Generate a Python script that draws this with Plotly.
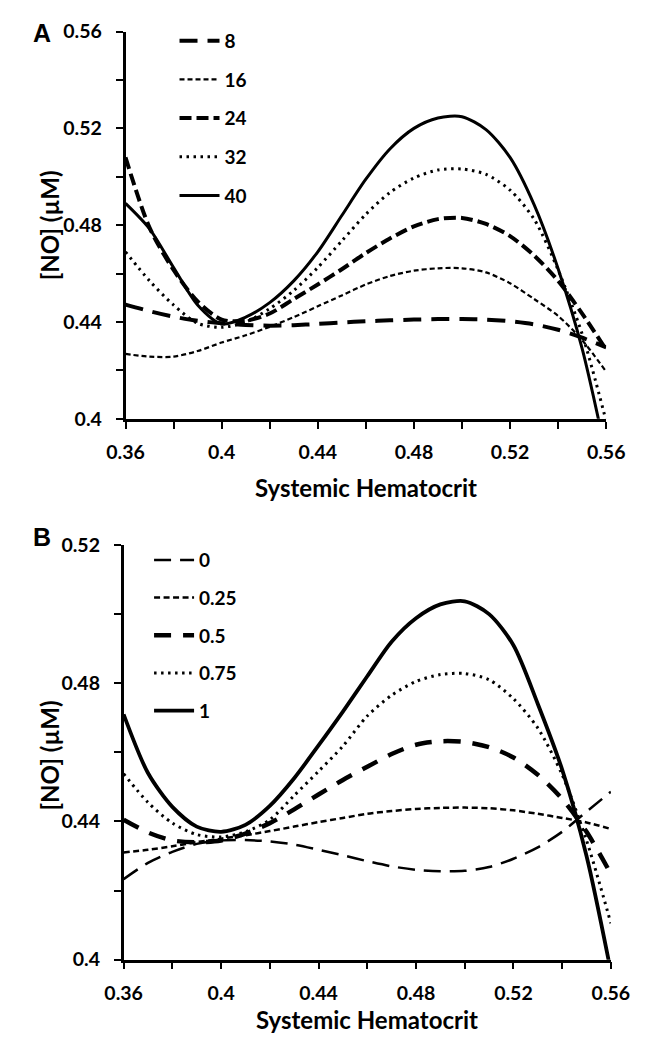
import plotly.graph_objects as go

# ---------------- data ----------------
hct = [0.36, 0.37, 0.38, 0.39, 0.40, 0.41, 0.42, 0.43, 0.44, 0.45, 0.46,
       0.47, 0.48, 0.49, 0.50, 0.51, 0.52, 0.53, 0.54, 0.55, 0.56]

# Panel A series
a_names = ["8", "16", "24", "32", "40"]
a_8 = [0.4472, 0.4445, 0.4422, 0.4405, 0.4395, 0.4388, 0.4385, 0.4387, 0.4392, 0.4398, 0.4403,
       0.4407, 0.4410, 0.4412, 0.4412, 0.4410, 0.4403, 0.4390, 0.4368, 0.4335, 0.4295]
a_16 = [0.4268, 0.4257, 0.4257, 0.4280, 0.4315, 0.4345, 0.4380, 0.4420, 0.4465, 0.4510, 0.4555,
        0.4590, 0.4612, 0.4622, 0.4622, 0.4605, 0.4560, 0.4495, 0.4425, 0.4325, 0.4195]
a_24 = [0.5080, 0.4790, 0.4615, 0.4485, 0.4410, 0.4405, 0.4435, 0.4495, 0.4555, 0.4618, 0.4685,
        0.4745, 0.4795, 0.4825, 0.4830, 0.4805, 0.4755, 0.4675, 0.4570, 0.4435, 0.4285]
a_32 = [0.4690, 0.4570, 0.4470, 0.4395, 0.4378, 0.4400, 0.4455, 0.4530, 0.4625, 0.4735, 0.4845,
        0.4935, 0.4995, 0.5028, 0.5032, 0.5010, 0.4945, 0.4825, 0.4615, 0.4350, 0.3990]
a_40 = [0.4890, 0.4785, 0.4625, 0.4470, 0.4392, 0.4420, 0.4480, 0.4570, 0.4690, 0.4840, 0.4990,
        0.5115, 0.5200, 0.5243, 0.5248, 0.5195, 0.5080, 0.4885, 0.4620, 0.4290, 0.3850]

# Panel B series
b_names = ["0", "0.25", "0.5", "0.75", "1"]
b_0 = [0.4233, 0.4280, 0.4312, 0.4335, 0.4345, 0.4346, 0.4342, 0.4333, 0.4318, 0.4302, 0.4285,
       0.4270, 0.4260, 0.4256, 0.4257, 0.4268, 0.4292, 0.4325, 0.4370, 0.4428, 0.4486]
b_025 = [0.4310, 0.4318, 0.4328, 0.4340, 0.4350, 0.4360, 0.4372, 0.4385, 0.4398, 0.4410, 0.4422,
         0.4430, 0.4436, 0.4439, 0.4440, 0.4438, 0.4432, 0.4422, 0.4410, 0.4397, 0.4378]
b_05 = [0.4405, 0.4368, 0.4345, 0.4340, 0.4345, 0.4365, 0.4395, 0.4435, 0.4478, 0.4520, 0.4558,
        0.4595, 0.4622, 0.4632, 0.4630, 0.4615, 0.4585, 0.4535, 0.4465, 0.4370, 0.4248]
b_075 = [0.4538, 0.4455, 0.4395, 0.4362, 0.4355, 0.4370, 0.4405, 0.4475, 0.4545, 0.4618, 0.4705,
         0.4765, 0.4805, 0.4825, 0.4828, 0.4810, 0.4755, 0.4670, 0.4535, 0.4345, 0.4105]
b_1 = [0.4710, 0.4540, 0.4442, 0.4385, 0.4370, 0.4390, 0.4445, 0.4525, 0.4620, 0.4718, 0.4820,
       0.4920, 0.4988, 0.5028, 0.5037, 0.5000, 0.4910, 0.4740, 0.4550, 0.4300, 0.3965]

x_tickvals = [0.36, 0.40, 0.44, 0.48, 0.52, 0.56]
x_ticktext = ["0.36", "0.4", "0.44", "0.48", "0.52", "0.56"]
x_minorvals = [0.38, 0.42, 0.46, 0.50, 0.54]
ya_tickvals = [0.40, 0.44, 0.48, 0.52, 0.56]
ya_ticktext = ["0.4", "0.44", "0.48", "0.52", "0.56"]
ya_minorvals = [0.42, 0.46, 0.50, 0.54]
yb_tickvals = [0.40, 0.44, 0.48, 0.52]
yb_ticktext = ["0.4", "0.44", "0.48", "0.52"]
yb_minorvals = [0.42, 0.46, 0.50]

x_title = "Systemic Hematocrit"
y_title = "[NO] (\u00b5M)"

# ---------------- styles ----------------
a_styles = [
    dict(width=4, dash="18px,10px"),
    dict(width=2.2, dash="5px,3px"),
    dict(width=4, dash="12px,5px"),
    dict(width=3, dash="2.5px,4.5px"),
    dict(width=3, dash="solid"),
]
b_styles = [
    dict(width=2.5, dash="17px,9px"),
    dict(width=2.5, dash="6px,3.5px"),
    dict(width=4.5, dash="17px,12px"),
    dict(width=3, dash="2.5px,4.5px"),
    dict(width=3.8, dash="solid"),
]

FONT = "Lato"
fig = go.Figure()

for name, ys, st in zip(a_names, [a_8, a_16, a_24, a_32, a_40], a_styles):
    fig.add_trace(go.Scatter(
        x=hct, y=ys, mode="lines", name=name, legend="legend",
        legendgroup="a" + name,
        line=dict(color="black", width=st["width"], dash=st["dash"], shape="spline", smoothing=0.8),
        xaxis="x", yaxis="y"))

for name, ys, st in zip(b_names, [b_0, b_025, b_05, b_075, b_1], b_styles):
    fig.add_trace(go.Scatter(
        x=hct, y=ys, mode="lines", name=name, legend="legend2",
        legendgroup="b" + name,
        line=dict(color="black", width=st["width"], dash=st["dash"], shape="spline", smoothing=0.8),
        xaxis="x2", yaxis="y2"))

W, H = 661, 1043
def px(v): return v / W
def py(v): return 1 - v / H

tickfont = dict(family=FONT, size=19.5, color="black", weight="bold")

def xaxis(dom, anchor):
    return dict(domain=dom, anchor=anchor, range=[0.36, 0.56],
                tickvals=x_tickvals, ticktext=x_ticktext,
                showline=True, linecolor="black", linewidth=2.5,
                ticks="outside", ticklen=7, tickwidth=2, tickcolor="black",
                minor=dict(tickvals=x_minorvals, ticks="outside", ticklen=7,
                           tickwidth=2, tickcolor="black", showgrid=False),
                showgrid=False, zeroline=False, tickfont=tickfont,
                ticklabelstandoff=7, fixedrange=True)

def yaxis(dom, anchor, rng, tv, tt, mv):
    return dict(domain=dom, anchor=anchor, range=rng,
                tickvals=tv, ticktext=tt,
                showline=True, linecolor="black", linewidth=2.5,
                ticks="outside", ticklen=7, tickwidth=2, tickcolor="black",
                minor=dict(tickvals=mv, ticks="outside", ticklen=7,
                           tickwidth=2, tickcolor="black", showgrid=False),
                showgrid=False, zeroline=False, tickfont=tickfont,
                ticklabelstandoff=10, fixedrange=True)

legfont = dict(family=FONT, size=19, color="black", weight="bold")

fig.update_layout(
    width=W, height=H,
    margin=dict(l=0, r=0, t=0, b=0),
    paper_bgcolor="white", plot_bgcolor="white",
    xaxis=xaxis([px(113), px(623)], "y"),
    yaxis=yaxis([py(416), py(20)], "x", [0.40, 0.56], ya_tickvals, ya_ticktext, ya_minorvals),
    xaxis2=xaxis([px(111), px(628)], "y2"),
    yaxis2=yaxis([py(969), py(545)], "x2", [0.40, 0.52], yb_tickvals, yb_ticktext, yb_minorvals),
    legend=dict(x=px(165), y=py(10), xanchor="left", yanchor="top",
                bgcolor="rgba(0,0,0,0)", font=legfont, tracegroupgap=11,
                itemwidth=40),
    legend2=dict(x=px(138), y=py(541), xanchor="left", yanchor="top",
                 bgcolor="rgba(0,0,0,0)", font=legfont, tracegroupgap=10,
                 itemwidth=40),
    showlegend=True,
)

annos = [
    dict(text="A", x=px(24), y=py(21)),
    dict(text="B", x=px(24), y=py(537)),
]
for a in annos:
    fig.add_annotation(xref="paper", yref="paper", x=a["x"], y=a["y"], text=a["text"],
                       showarrow=False, xanchor="center", yanchor="middle",
                       font=dict(family="Liberation Sans", size=25, color="black", weight="bold"))

titlefont = dict(family=FONT, size=24, color="black", weight="bold")
fig.add_annotation(xref="paper", yref="paper", x=px(368), y=py(486), text=x_title,
                   showarrow=False, xanchor="center", yanchor="middle", font=titlefont)
fig.add_annotation(xref="paper", yref="paper", x=px(369), y=py(1030), text=x_title,
                   showarrow=False, xanchor="center", yanchor="middle", font=titlefont)
fig.add_annotation(xref="paper", yref="paper", x=px(32), y=py(218), text=y_title,
                   showarrow=False, xanchor="center", yanchor="middle", textangle=-90, font=titlefont)
fig.add_annotation(xref="paper", yref="paper", x=px(32), y=py(760), text=y_title,
                   showarrow=False, xanchor="center", yanchor="middle", textangle=-90, font=titlefont)

fig.write_html("out.html", config={"displayModeBar": False},
               post_script="document.body.style.margin='0';")
